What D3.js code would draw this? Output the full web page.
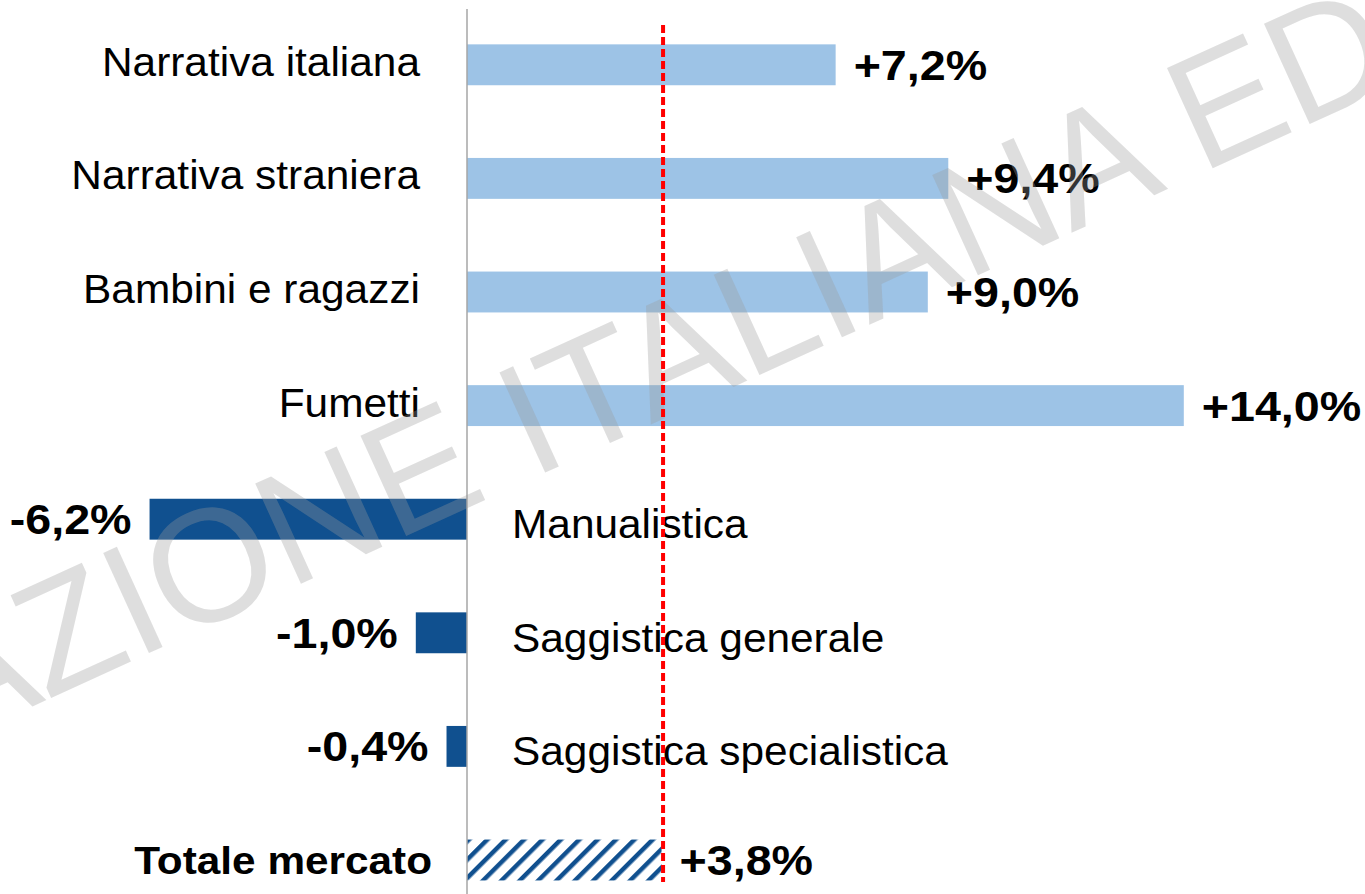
<!DOCTYPE html>
<html>
<head>
<meta charset="utf-8">
<script src="https://d3js.org/d3.v7.min.js"></script>
<style>
  body { margin: 0; background: #fff; }
  text { font-family: "Liberation Sans", Arial, sans-serif; }
</style>
</head>
<body>
<svg id="chart" width="1365" height="894"></svg>
<script>
// data (variazione % a valore)
let categories = ["Narrativa italiana", "Narrativa straniera", "Bambini e ragazzi", "Fumetti",
                  "Manualistica", "Saggistica generale", "Saggistica specialistica", "Totale mercato"];
let values = [7.2, 9.4, 9.0, 14.0, -6.2, -1.0, -0.4, 3.8];
let valueLabels = ["+7,2%", "+9,4%", "+9,0%", "+14,0%", "-6,2%", "-1,0%", "-0,4%", "+3,8%"];
let totalName = "Totale mercato";
let watermark = "ASSOCIAZIONE ITALIANA EDITORI";

let svg = d3.select("#chart");

let x = d3.scaleLinear().domain([0, 14]).range([467, 467 + 716.8]);
let y = d3.scaleBand().domain(categories).range([8, 916.8])
    .paddingInner(0.64).paddingOuter(0.32);

let light = "#9dc3e6", dark = "#10508f";

// hatch pattern for the total
let defs = svg.append("defs");
let pat = defs.append("pattern")
    .attr("id", "hatch")
    .attr("patternUnits", "userSpaceOnUse")
    .attr("width", 13).attr("height", 13)
    .attr("patternTransform", "rotate(45)");
pat.append("rect").attr("width", 13).attr("height", 13).attr("fill", "#fff");
pat.append("rect").attr("x", 0).attr("y", 0).attr("width", 4.5).attr("height", 13).attr("fill", dark);

let rows = categories.map((c, i) => ({cat: c, v: values[i], label: valueLabels[i]}));

// bars
svg.selectAll(".bar")
    .data(rows)
    .enter()
    .append("rect")
    .attr("class", "bar")
    .attr("x", d => x(Math.min(0, d.v)))
    .attr("y", d => y(d.cat))
    .attr("width", d => Math.abs(x(d.v) - x(0)))
    .attr("height", y.bandwidth())
    .attr("fill", d => d.cat === totalName ? "url(#hatch)" : (d.v >= 0 ? light : dark));

// zero axis
svg.append("line")
    .attr("x1", x(0)).attr("x2", x(0))
    .attr("y1", 9).attr("y2", 894)
    .attr("stroke", "#a6a6a6").attr("stroke-width", 1.5);

function stretched(sel, sx) {
    return sel.attr("transform", function(d) {
        return "translate(" + d._x + "," + d._y + ") scale(" + sx + ",1)";
    });
}

let cy = d => y(d.cat) + y.bandwidth() / 2;

// category labels
let catLab = svg.selectAll(".cat")
    .data(rows.map(d => Object.assign({}, d, {
        _x: d.cat === totalName ? 432 : (d.v >= 0 ? 420 : 512),
        _y: cy(d) + (d.cat === totalName ? 14 : (d.v < 0 ? 19 : 11))
    })))
    .enter()
    .append("text")
    .attr("class", "cat")
    .text(d => d.cat)
    .attr("text-anchor", d => (d.v >= 0 || d.cat === totalName) ? "end" : "start")
    .attr("font-size", d => d.cat === totalName ? "39px" : "40px")
    .attr("font-weight", d => d.cat === totalName ? "bold" : "normal")
    .attr("fill", "#000");
stretched(catLab.filter(d => d.cat !== totalName), 1.06);
stretched(catLab.filter(d => d.cat === totalName), 1.085);

// value labels
let valLab = svg.selectAll(".val")
    .data(rows.map(d => Object.assign({}, d, {
        _x: d.v >= 0 ? x(d.v) + 18 : x(d.v) - 18,
        _y: cy(d) + 15
    })))
    .enter()
    .append("text")
    .attr("class", "val")
    .text(d => d.label)
    .attr("text-anchor", d => d.v >= 0 ? "start" : "end")
    .attr("font-size", "42px")
    .attr("font-weight", "bold")
    .attr("fill", "#000");
stretched(valLab, 1.11);

// watermark
svg.append("text")
    .text(watermark)
    .attr("transform", "translate(570,398) rotate(-24.5)")
    .attr("text-anchor", "middle")
    .attr("dy", "0.36em")
    .attr("font-size", "160px")
    .attr("fill", "#9a9a9a")
    .attr("fill-opacity", 0.33);

// total market reference line
let total = values[categories.indexOf(totalName)];
svg.append("line")
    .attr("x1", x(total) + 1.5).attr("x2", x(total) + 1.5)
    .attr("y1", 25).attr("y2", 882)
    .attr("stroke", "#ff0000").attr("stroke-width", 4)
    .attr("stroke-dasharray", "8,4");
</script>
</body>
</html>
